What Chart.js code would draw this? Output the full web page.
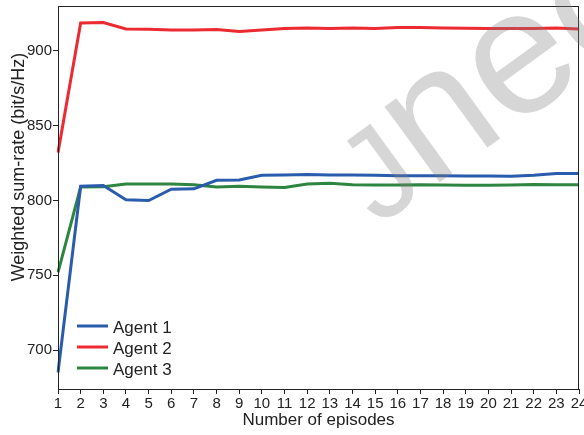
<!DOCTYPE html>
<html>
<head>
<meta charset="utf-8">
<script src="https://cdn.jsdelivr.net/npm/chart.js@4"></script>
<style>
  html, body { margin: 0; padding: 0; background: #fff; }
  #wrap { width: 584px; height: 435px; }
</style>
</head>
<body>
<div id="wrap"><canvas id="c" width="584" height="435"></canvas></div>
<script>
// episodes on the x axis
const episodes = ['1','2','3','4','5','6','7','8','9','10','11','12','13','14','15','16','17','18','19','20','21','22','23','24'];

// weighted sum-rate per agent (bit/s/Hz)
const agent1 = [685, 809.5, 810, 800.5, 800, 807.5, 807.8, 813.5, 813.7, 816.9, 817, 817.3, 817, 817, 816.8, 816.5, 816.5, 816.5, 816.3, 816.3, 816.2, 816.8, 818, 818];
const agent2 = [832, 918.7, 919, 914.7, 914.5, 914, 914, 914.3, 913, 914, 915, 915.3, 915, 915.3, 915, 915.7, 915.7, 915.3, 915.2, 915, 915, 915, 915.3, 914.7];
const agent3 = [752, 809, 809.2, 811, 811, 811, 810.5, 809, 809.5, 809, 808.7, 811, 811.5, 810.5, 810.3, 810.3, 810.5, 810.3, 810.2, 810.2, 810.3, 810.7, 810.5, 810.5];

const yTicks = [700, 750, 800, 850, 900];
const yTitle = 'Weighted sum-rate (bit/s/Hz)';

const FONT = "'Liberation Sans', Arial, sans-serif";

// box around plot, legend inside, y title, watermark
const extras = {
    id: 'extras',
    afterDatasetsDraw(chart) {
        const ctx = chart.ctx;
        const a = chart.chartArea;
        ctx.save();
        ctx.strokeStyle = '#222';
        ctx.lineWidth = 1;
        ctx.strokeRect(a.left + 0.5, a.top + 0.5, a.right - a.left - 1, a.bottom - a.top);

        // legend
        ctx.font = '17px ' + FONT;
        ctx.textBaseline = 'middle';
        chart.data.datasets.forEach((ds, i) => {
            const y = 326 + i * 21;
            ctx.strokeStyle = ds.borderColor;
            ctx.lineWidth = 3;
            ctx.beginPath();
            ctx.moveTo(a.left + 19, y);
            ctx.lineTo(a.left + 50, y);
            ctx.stroke();
            ctx.fillStyle = '#222';
            ctx.fillText(ds.label, a.left + 55, y + 2);
        });

        // y title (sits a bit above the plot's middle in the original)
        ctx.save();
        ctx.translate(19, 167);
        ctx.rotate(-Math.PI / 2);
        ctx.font = '18px ' + FONT;
        ctx.textAlign = 'center';
        ctx.fillText(yTitle, 0, 0);
        ctx.restore();

        // watermark
        ctx.translate(378, 227);
        ctx.rotate(-36 * Math.PI / 180);
        ctx.fillStyle = 'rgba(128,128,128,0.32)';
        ctx.textBaseline = 'alphabetic';
        ctx.font = '128px ' + FONT;
        ctx.fillText('J', 0, 0);
        const w = ctx.measureText('J').width;
        ctx.font = '177px ' + FONT;
        ctx.fillText('nec', w, 0);
        ctx.restore();
    }
};

new Chart(document.getElementById('c'), {
    type: 'line',
    data: {
        labels: episodes,
        datasets: [
            { label: 'Agent 1', data: agent1, borderColor: '#2a5cad', borderWidth: 3, pointRadius: 0, tension: 0 },
            { label: 'Agent 2', data: agent2, borderColor: '#ec2a32', borderWidth: 3, pointRadius: 0, tension: 0 },
            { label: 'Agent 3', data: agent3, borderColor: '#2e8540', borderWidth: 3, pointRadius: 0, tension: 0 }
        ]
    },
    options: {
        responsive: false,
        animation: false,
        layout: { padding: { top: 6, right: 5, left: 0, bottom: 0 } },
        plugins: {
            legend: { display: false },
            tooltip: { enabled: false }
        },
        scales: {
            x: {
                offset: false,
                grid: { drawOnChartArea: false, drawTicks: true, tickLength: 5, color: '#222' },
                border: { color: '#222', width: 1 },
                ticks: { color: '#222', font: { family: FONT, size: 15 }, maxRotation: 0, autoSkip: false, padding: 1 },
                title: { display: true, text: 'Number of episodes', color: '#222', font: { family: FONT, size: 17 }, padding: { top: 0, bottom: 4 } },
                afterFit(s) { s.height = 46; s.paddingLeft = 0; s.paddingRight = 0; }
            },
            y: {
                min: 674,
                max: 930,
                afterBuildTicks(s) { s.ticks = yTicks.map(v => ({ value: v })); },
                grid: { drawOnChartArea: false, drawTicks: true, tickLength: 5, color: '#222' },
                border: { color: '#222', width: 1 },
                ticks: { color: '#222', font: { family: FONT, size: 15 }, padding: 1 },
                afterFit(s) { s.width = 58; s.paddingTop = 0; s.paddingBottom = 0; }
            }
        }
    },
    plugins: [extras]
});
</script>
</body>
</html>
